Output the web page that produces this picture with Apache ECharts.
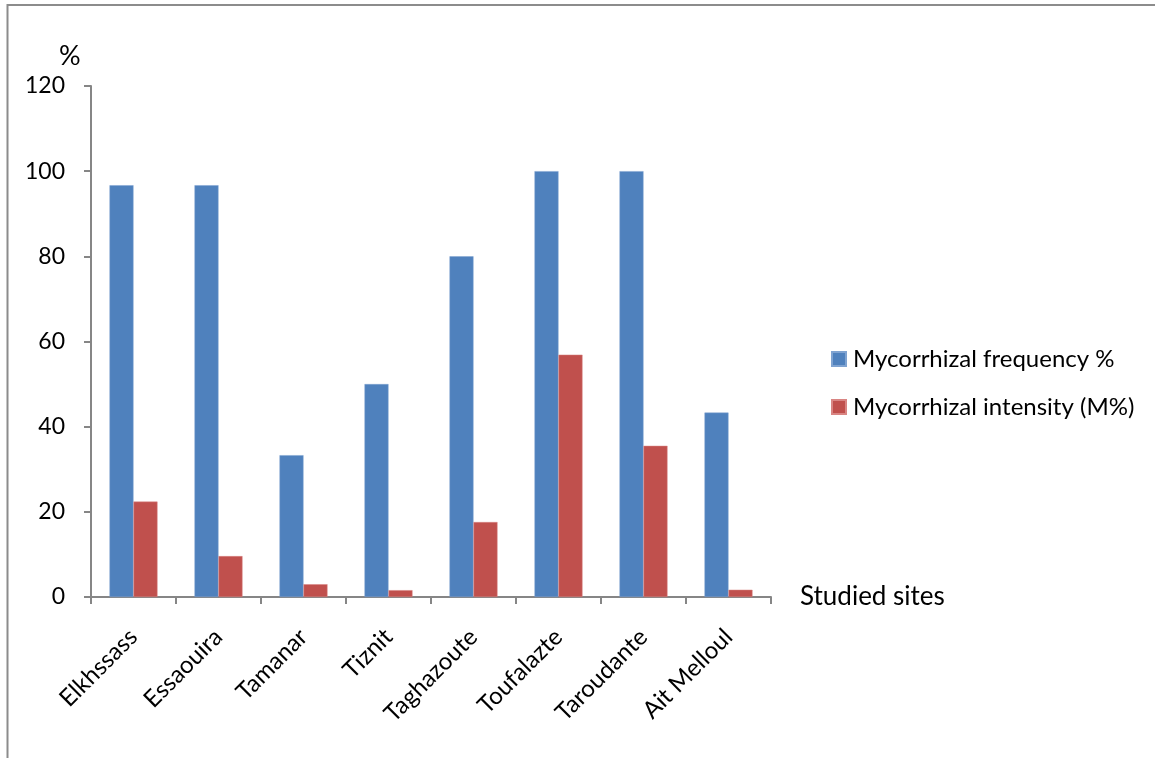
<!DOCTYPE html>
<html>
<head>
<meta charset="utf-8">
<script src="https://cdn.jsdelivr.net/npm/echarts@6/dist/echarts.min.js"></script>
<style>
  html, body { margin: 0; padding: 0; background: #ffffff; }
  #chart { width: 1155px; height: 758px; }
</style>
</head>
<body>
<div id="chart"></div>
<script>
// Study sites and mycorrhizal measurements (%)
const sites = ['Elkhssass', 'Essaouira', 'Tamanar', 'Tiznit', 'Taghazoute', 'Toufalazte', 'Taroudante', 'Ait Melloul'];
const frequency = [96.7, 96.7, 33.3, 50, 80, 100, 100, 43.3];
const intensity = [22.4, 9.6, 3.0, 1.6, 17.6, 56.9, 35.5, 1.7];
const seriesNames = ['Mycorrhizal frequency %', 'Mycorrhizal intensity (M%)'];
const yTicks = { min: 0, max: 120, interval: 20 };

const FONT = 'Lato';
const axisGray = '#868686';

const chart = echarts.init(document.getElementById('chart'), null, { renderer: 'canvas' });

chart.setOption({
  animation: false,
  backgroundColor: '#ffffff',
  textStyle: { fontFamily: FONT, color: '#000000' },
  grid: { left: 91, right: 384, top: 86, bottom: 161, containLabel: false },
  legend: {
    orient: 'vertical',
    left: 826,
    top: 342,
    itemWidth: 14,
    itemHeight: 14,
    itemGap: 24,
    icon: 'rect',
    textStyle: { fontFamily: FONT, fontSize: 24, color: '#000000', padding: [0, 0, 0, 2] },
    data: seriesNames
  },
  xAxis: {
    type: 'category',
    data: sites,
    boundaryGap: true,
    name: 'Studied sites',
    nameLocation: 'end',
    nameGap: 29,
    nameTextStyle: { fontFamily: FONT, fontSize: 26, color: '#000000', verticalAlign: 'middle', align: 'left' },
    axisLine: { show: true, lineStyle: { color: axisGray, width: 2 } },
    axisTick: { show: true, length: 7, lineStyle: { color: axisGray, width: 2 } },
    axisLabel: {
      interval: 0,
      rotate: 45,
      margin: 36,
      fontFamily: FONT,
      fontSize: 24,
      color: '#000000'
    },
    splitLine: { show: false }
  },
  yAxis: {
    type: 'value',
    min: yTicks.min,
    max: yTicks.max,
    interval: yTicks.interval,
    axisLine: { show: true, lineStyle: { color: axisGray, width: 2 } },
    axisTick: { show: true, length: 7, lineStyle: { color: axisGray, width: 2 } },
    axisLabel: { margin: 26, fontFamily: FONT, fontSize: 23, color: '#000000' },
    splitLine: { show: false }
  },
  series: [
    {
      name: seriesNames[0],
      type: 'bar',
      data: frequency,
      barWidth: 24,
      barGap: '0%',
      itemStyle: { color: '#4F81BD', borderColor: '#7fa3d1', borderWidth: 0.5 }
    },
    {
      name: seriesNames[1],
      type: 'bar',
      data: intensity,
      barWidth: 24,
      barGap: '0%',
      itemStyle: { color: '#C0504D', borderColor: '#d98583', borderWidth: 0.5 }
    }
  ],
  graphic: [
    {
      type: 'rect',
      shape: { x: 7.5, y: 5, width: 1200, height: 800 },
      style: { fill: 'none', stroke: '#8c8c8c', lineWidth: 2 },
      silent: true
    },
    {
      type: 'text',
      left: 59,
      top: 43,
      style: { text: '%', font: '27px ' + FONT, fill: '#000000' },
      silent: true
    }
  ]
});
</script>
</body>
</html>
